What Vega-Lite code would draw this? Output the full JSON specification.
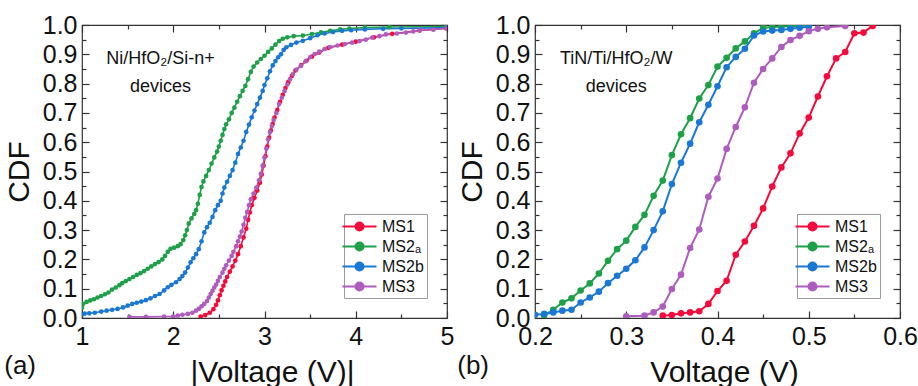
{
  "$schema": "https://vega.github.io/schema/vega-lite/v6.json",
  "padding": {"left": 3, "top": 12, "right": 5, "bottom": 0},
  "background": "white",
  "config": {
    "font": "Liberation Sans",
    "view": {"stroke": "#333333", "strokeWidth": 1.2},
    "axis": {
      "grid": false,
      "domain": false,
      "labelFont": "Liberation Sans",
      "labelFontSize": 25,
      "labelColor": "#111111",
      "titleFont": "Liberation Sans",
      "titleFontSize": 30,
      "titleFontWeight": "normal",
      "titleColor": "#111111",
      "tickColor": "#333333",
      "tickWidth": 1.2
    },
    "legend": {
      "orient": "bottom-right",
      "offset": 20,
      "title": null,
      "strokeColor": "#9a9a9a",
      "fillColor": "white",
      "padding": 3,
      "labelFont": "Liberation Sans",
      "labelFontSize": 16,
      "labelColor": "#111111",
      "labelOffset": 13,
      "symbolOffset": 3,
      "symbolType": "M-2,0L2,0M0.47,0A0.47,0.47,0,1,1,-0.47,0A0.47,0.47,0,1,1,0.47,0Z",
      "symbolSize": 289,
      "symbolStrokeWidth": 2,
      "rowPadding": 2
    },
    "title": {"fontSize": 26, "fontWeight": "normal", "font": "Liberation Sans", "color": "#111111"}
  },
  "datasets": {
    "a": [
      {"s":"MS1","v":2.30,"c":0.005},{"s":"MS1","v":2.35,"c":0.010},{"s":"MS1","v":2.40,"c":0.018},{"s":"MS1","v":2.44,"c":0.030},{"s":"MS1","v":2.47,"c":0.045},{"s":"MS1","v":2.49,"c":0.060},{"s":"MS1","v":2.51,"c":0.078},{"s":"MS1","v":2.53,"c":0.095},{"s":"MS1","v":2.55,"c":0.110},{"s":"MS1","v":2.57,"c":0.125},{"s":"MS1","v":2.59,"c":0.140},{"s":"MS1","v":2.62,"c":0.158},{"s":"MS1","v":2.65,"c":0.176},{"s":"MS1","v":2.68,"c":0.196},{"s":"MS1","v":2.71,"c":0.218},{"s":"MS1","v":2.74,"c":0.245},{"s":"MS1","v":2.77,"c":0.275},{"s":"MS1","v":2.80,"c":0.305},{"s":"MS1","v":2.82,"c":0.335},{"s":"MS1","v":2.84,"c":0.360},{"s":"MS1","v":2.86,"c":0.385},{"s":"MS1","v":2.89,"c":0.410},{"s":"MS1","v":2.92,"c":0.435},{"s":"MS1","v":2.95,"c":0.462},{"s":"MS1","v":2.97,"c":0.490},{"s":"MS1","v":2.99,"c":0.520},{"s":"MS1","v":3.01,"c":0.552},{"s":"MS1","v":3.03,"c":0.585},{"s":"MS1","v":3.05,"c":0.615},{"s":"MS1","v":3.07,"c":0.640},{"s":"MS1","v":3.09,"c":0.662},{"s":"MS1","v":3.11,"c":0.684},{"s":"MS1","v":3.14,"c":0.710},{"s":"MS1","v":3.17,"c":0.738},{"s":"MS1","v":3.20,"c":0.762},{"s":"MS1","v":3.23,"c":0.785},{"s":"MS1","v":3.26,"c":0.805},{"s":"MS1","v":3.30,"c":0.826},{"s":"MS1","v":3.34,"c":0.845},{"s":"MS1","v":3.40,"c":0.862},{"s":"MS1","v":3.46,"c":0.878},{"s":"MS1","v":3.52,"c":0.892},{"s":"MS1","v":3.60,"c":0.906},{"s":"MS1","v":3.70,"c":0.922},{"s":"MS1","v":3.85,"c":0.933},{"s":"MS1","v":4.00,"c":0.943},{"s":"MS1","v":4.20,"c":0.958},{"s":"MS1","v":4.40,"c":0.970},{"s":"MS1","v":4.70,"c":0.981},{"s":"MS1","v":4.99,"c":0.989},

      {"s":"MS2a","v":1.00,"c":0.035},{"s":"MS2a","v":1.01,"c":0.048},{"s":"MS2a","v":1.05,"c":0.055},{"s":"MS2a","v":1.09,"c":0.060},{"s":"MS2a","v":1.13,"c":0.064},{"s":"MS2a","v":1.17,"c":0.070},{"s":"MS2a","v":1.21,"c":0.075},{"s":"MS2a","v":1.25,"c":0.081},{"s":"MS2a","v":1.29,"c":0.087},{"s":"MS2a","v":1.33,"c":0.097},{"s":"MS2a","v":1.37,"c":0.104},{"s":"MS2a","v":1.41,"c":0.112},{"s":"MS2a","v":1.44,"c":0.119},{"s":"MS2a","v":1.48,"c":0.126},{"s":"MS2a","v":1.52,"c":0.133},{"s":"MS2a","v":1.56,"c":0.140},{"s":"MS2a","v":1.60,"c":0.147},{"s":"MS2a","v":1.64,"c":0.153},{"s":"MS2a","v":1.68,"c":0.160},{"s":"MS2a","v":1.72,"c":0.168},{"s":"MS2a","v":1.76,"c":0.176},{"s":"MS2a","v":1.80,"c":0.184},{"s":"MS2a","v":1.84,"c":0.191},{"s":"MS2a","v":1.88,"c":0.200},{"s":"MS2a","v":1.91,"c":0.212},{"s":"MS2a","v":1.94,"c":0.226},{"s":"MS2a","v":1.97,"c":0.236},{"s":"MS2a","v":2.01,"c":0.240},{"s":"MS2a","v":2.05,"c":0.245},{"s":"MS2a","v":2.08,"c":0.252},{"s":"MS2a","v":2.11,"c":0.266},{"s":"MS2a","v":2.13,"c":0.282},{"s":"MS2a","v":2.15,"c":0.300},{"s":"MS2a","v":2.17,"c":0.322},{"s":"MS2a","v":2.20,"c":0.340},{"s":"MS2a","v":2.23,"c":0.355},{"s":"MS2a","v":2.25,"c":0.368},{"s":"MS2a","v":2.27,"c":0.390},{"s":"MS2a","v":2.29,"c":0.420},{"s":"MS2a","v":2.31,"c":0.447},{"s":"MS2a","v":2.33,"c":0.466},{"s":"MS2a","v":2.36,"c":0.485},{"s":"MS2a","v":2.39,"c":0.505},{"s":"MS2a","v":2.42,"c":0.527},{"s":"MS2a","v":2.45,"c":0.548},{"s":"MS2a","v":2.48,"c":0.568},{"s":"MS2a","v":2.50,"c":0.585},{"s":"MS2a","v":2.52,"c":0.605},{"s":"MS2a","v":2.54,"c":0.625},{"s":"MS2a","v":2.56,"c":0.645},{"s":"MS2a","v":2.58,"c":0.661},{"s":"MS2a","v":2.61,"c":0.678},{"s":"MS2a","v":2.64,"c":0.700},{"s":"MS2a","v":2.67,"c":0.718},{"s":"MS2a","v":2.70,"c":0.738},{"s":"MS2a","v":2.73,"c":0.757},{"s":"MS2a","v":2.76,"c":0.775},{"s":"MS2a","v":2.79,"c":0.792},{"s":"MS2a","v":2.82,"c":0.815},{"s":"MS2a","v":2.85,"c":0.840},{"s":"MS2a","v":2.88,"c":0.858},{"s":"MS2a","v":2.92,"c":0.872},{"s":"MS2a","v":2.96,"c":0.884},{"s":"MS2a","v":3.00,"c":0.895},{"s":"MS2a","v":3.04,"c":0.908},{"s":"MS2a","v":3.08,"c":0.920},{"s":"MS2a","v":3.12,"c":0.933},{"s":"MS2a","v":3.16,"c":0.945},{"s":"MS2a","v":3.20,"c":0.953},{"s":"MS2a","v":3.25,"c":0.958},{"s":"MS2a","v":3.32,"c":0.962},{"s":"MS2a","v":3.42,"c":0.964},{"s":"MS2a","v":3.52,"c":0.969},{"s":"MS2a","v":3.62,"c":0.975},{"s":"MS2a","v":3.72,"c":0.980},{"s":"MS2a","v":3.83,"c":0.985},{"s":"MS2a","v":3.93,"c":0.988},{"s":"MS2a","v":4.10,"c":0.991},{"s":"MS2a","v":4.37,"c":0.993},{"s":"MS2a","v":4.99,"c":0.995},

      {"s":"MS2b","v":1.00,"c":0.012},{"s":"MS2b","v":1.03,"c":0.015},{"s":"MS2b","v":1.08,"c":0.016},{"s":"MS2b","v":1.14,"c":0.018},{"s":"MS2b","v":1.21,"c":0.022},{"s":"MS2b","v":1.27,"c":0.025},{"s":"MS2b","v":1.33,"c":0.028},{"s":"MS2b","v":1.39,"c":0.031},{"s":"MS2b","v":1.45,"c":0.036},{"s":"MS2b","v":1.50,"c":0.042},{"s":"MS2b","v":1.55,"c":0.048},{"s":"MS2b","v":1.60,"c":0.052},{"s":"MS2b","v":1.65,"c":0.056},{"s":"MS2b","v":1.70,"c":0.061},{"s":"MS2b","v":1.75,"c":0.067},{"s":"MS2b","v":1.80,"c":0.075},{"s":"MS2b","v":1.85,"c":0.082},{"s":"MS2b","v":1.90,"c":0.094},{"s":"MS2b","v":1.94,"c":0.105},{"s":"MS2b","v":1.98,"c":0.113},{"s":"MS2b","v":2.03,"c":0.122},{"s":"MS2b","v":2.07,"c":0.133},{"s":"MS2b","v":2.10,"c":0.143},{"s":"MS2b","v":2.13,"c":0.155},{"s":"MS2b","v":2.16,"c":0.172},{"s":"MS2b","v":2.19,"c":0.190},{"s":"MS2b","v":2.22,"c":0.204},{"s":"MS2b","v":2.25,"c":0.218},{"s":"MS2b","v":2.28,"c":0.235},{"s":"MS2b","v":2.31,"c":0.262},{"s":"MS2b","v":2.34,"c":0.292},{"s":"MS2b","v":2.37,"c":0.310},{"s":"MS2b","v":2.40,"c":0.325},{"s":"MS2b","v":2.43,"c":0.345},{"s":"MS2b","v":2.46,"c":0.368},{"s":"MS2b","v":2.49,"c":0.385},{"s":"MS2b","v":2.52,"c":0.400},{"s":"MS2b","v":2.54,"c":0.425},{"s":"MS2b","v":2.56,"c":0.445},{"s":"MS2b","v":2.59,"c":0.465},{"s":"MS2b","v":2.62,"c":0.485},{"s":"MS2b","v":2.65,"c":0.505},{"s":"MS2b","v":2.68,"c":0.530},{"s":"MS2b","v":2.71,"c":0.560},{"s":"MS2b","v":2.74,"c":0.582},{"s":"MS2b","v":2.77,"c":0.605},{"s":"MS2b","v":2.80,"c":0.635},{"s":"MS2b","v":2.83,"c":0.660},{"s":"MS2b","v":2.86,"c":0.685},{"s":"MS2b","v":2.89,"c":0.708},{"s":"MS2b","v":2.92,"c":0.730},{"s":"MS2b","v":2.95,"c":0.752},{"s":"MS2b","v":2.98,"c":0.775},{"s":"MS2b","v":3.00,"c":0.795},{"s":"MS2b","v":3.03,"c":0.818},{"s":"MS2b","v":3.06,"c":0.842},{"s":"MS2b","v":3.09,"c":0.862},{"s":"MS2b","v":3.12,"c":0.877},{"s":"MS2b","v":3.15,"c":0.890},{"s":"MS2b","v":3.18,"c":0.900},{"s":"MS2b","v":3.21,"c":0.915},{"s":"MS2b","v":3.24,"c":0.924},{"s":"MS2b","v":3.29,"c":0.932},{"s":"MS2b","v":3.35,"c":0.940},{"s":"MS2b","v":3.42,"c":0.946},{"s":"MS2b","v":3.50,"c":0.955},{"s":"MS2b","v":3.58,"c":0.965},{"s":"MS2b","v":3.66,"c":0.971},{"s":"MS2b","v":3.75,"c":0.976},{"s":"MS2b","v":3.85,"c":0.980},{"s":"MS2b","v":3.95,"c":0.982},{"s":"MS2b","v":4.10,"c":0.985},{"s":"MS2b","v":4.30,"c":0.987},{"s":"MS2b","v":4.50,"c":0.988},{"s":"MS2b","v":4.99,"c":0.991},

      {"s":"MS3","v":1.52,"c":0.004},{"s":"MS3","v":1.70,"c":0.004},{"s":"MS3","v":1.90,"c":0.005},{"s":"MS3","v":2.00,"c":0.005},{"s":"MS3","v":2.05,"c":0.008},{"s":"MS3","v":2.10,"c":0.011},{"s":"MS3","v":2.16,"c":0.014},{"s":"MS3","v":2.21,"c":0.018},{"s":"MS3","v":2.25,"c":0.025},{"s":"MS3","v":2.28,"c":0.031},{"s":"MS3","v":2.31,"c":0.040},{"s":"MS3","v":2.34,"c":0.048},{"s":"MS3","v":2.37,"c":0.058},{"s":"MS3","v":2.39,"c":0.070},{"s":"MS3","v":2.41,"c":0.082},{"s":"MS3","v":2.43,"c":0.093},{"s":"MS3","v":2.45,"c":0.104},{"s":"MS3","v":2.47,"c":0.114},{"s":"MS3","v":2.49,"c":0.127},{"s":"MS3","v":2.51,"c":0.140},{"s":"MS3","v":2.54,"c":0.155},{"s":"MS3","v":2.56,"c":0.168},{"s":"MS3","v":2.58,"c":0.180},{"s":"MS3","v":2.61,"c":0.196},{"s":"MS3","v":2.64,"c":0.212},{"s":"MS3","v":2.66,"c":0.226},{"s":"MS3","v":2.69,"c":0.245},{"s":"MS3","v":2.71,"c":0.262},{"s":"MS3","v":2.73,"c":0.278},{"s":"MS3","v":2.75,"c":0.295},{"s":"MS3","v":2.77,"c":0.318},{"s":"MS3","v":2.79,"c":0.342},{"s":"MS3","v":2.81,"c":0.362},{"s":"MS3","v":2.83,"c":0.385},{"s":"MS3","v":2.85,"c":0.405},{"s":"MS3","v":2.88,"c":0.425},{"s":"MS3","v":2.91,"c":0.445},{"s":"MS3","v":2.94,"c":0.470},{"s":"MS3","v":2.96,"c":0.492},{"s":"MS3","v":2.98,"c":0.520},{"s":"MS3","v":3.00,"c":0.548},{"s":"MS3","v":3.02,"c":0.578},{"s":"MS3","v":3.04,"c":0.610},{"s":"MS3","v":3.06,"c":0.635},{"s":"MS3","v":3.08,"c":0.655},{"s":"MS3","v":3.10,"c":0.676},{"s":"MS3","v":3.13,"c":0.700},{"s":"MS3","v":3.16,"c":0.730},{"s":"MS3","v":3.19,"c":0.752},{"s":"MS3","v":3.22,"c":0.775},{"s":"MS3","v":3.25,"c":0.797},{"s":"MS3","v":3.28,"c":0.815},{"s":"MS3","v":3.31,"c":0.832},{"s":"MS3","v":3.35,"c":0.848},{"s":"MS3","v":3.40,"c":0.860},{"s":"MS3","v":3.45,"c":0.876},{"s":"MS3","v":3.50,"c":0.890},{"s":"MS3","v":3.55,"c":0.901},{"s":"MS3","v":3.60,"c":0.909},{"s":"MS3","v":3.66,"c":0.918},{"s":"MS3","v":3.72,"c":0.925},{"s":"MS3","v":3.80,"c":0.930},{"s":"MS3","v":3.88,"c":0.935},{"s":"MS3","v":3.96,"c":0.940},{"s":"MS3","v":4.04,"c":0.945},{"s":"MS3","v":4.11,"c":0.950},{"s":"MS3","v":4.18,"c":0.957},{"s":"MS3","v":4.26,"c":0.962},{"s":"MS3","v":4.33,"c":0.968},{"s":"MS3","v":4.45,"c":0.971},{"s":"MS3","v":4.55,"c":0.974},{"s":"MS3","v":4.63,"c":0.978},{"s":"MS3","v":4.70,"c":0.982},{"s":"MS3","v":4.85,"c":0.984},{"s":"MS3","v":4.99,"c":0.989}
    ],
    "b": [
      {"s":"MS1","v":0.34,"c":0.008},{"s":"MS1","v":0.35,"c":0.010},{"s":"MS1","v":0.36,"c":0.016},{"s":"MS1","v":0.37,"c":0.019},{"s":"MS1","v":0.38,"c":0.023},{"s":"MS1","v":0.39,"c":0.048},{"s":"MS1","v":0.40,"c":0.092},{"s":"MS1","v":0.41,"c":0.127},{"s":"MS1","v":0.42,"c":0.216},{"s":"MS1","v":0.43,"c":0.261},{"s":"MS1","v":0.44,"c":0.315},{"s":"MS1","v":0.45,"c":0.374},{"s":"MS1","v":0.46,"c":0.449},{"s":"MS1","v":0.47,"c":0.514},{"s":"MS1","v":0.48,"c":0.562},{"s":"MS1","v":0.49,"c":0.630},{"s":"MS1","v":0.50,"c":0.684},{"s":"MS1","v":0.51,"c":0.756},{"s":"MS1","v":0.52,"c":0.825},{"s":"MS1","v":0.53,"c":0.886},{"s":"MS1","v":0.54,"c":0.908},{"s":"MS1","v":0.55,"c":0.972},{"s":"MS1","v":0.56,"c":0.974},{"s":"MS1","v":0.57,"c":0.997},

      {"s":"MS2a","v":0.21,"c":0.009},{"s":"MS2a","v":0.22,"c":0.028},{"s":"MS2a","v":0.23,"c":0.053},{"s":"MS2a","v":0.24,"c":0.067},{"s":"MS2a","v":0.25,"c":0.094},{"s":"MS2a","v":0.26,"c":0.118},{"s":"MS2a","v":0.27,"c":0.152},{"s":"MS2a","v":0.28,"c":0.195},{"s":"MS2a","v":0.29,"c":0.235},{"s":"MS2a","v":0.30,"c":0.264},{"s":"MS2a","v":0.31,"c":0.311},{"s":"MS2a","v":0.32,"c":0.352},{"s":"MS2a","v":0.33,"c":0.417},{"s":"MS2a","v":0.34,"c":0.469},{"s":"MS2a","v":0.35,"c":0.556},{"s":"MS2a","v":0.36,"c":0.627},{"s":"MS2a","v":0.37,"c":0.682},{"s":"MS2a","v":0.38,"c":0.749},{"s":"MS2a","v":0.39,"c":0.795},{"s":"MS2a","v":0.40,"c":0.858},{"s":"MS2a","v":0.41,"c":0.888},{"s":"MS2a","v":0.42,"c":0.920},{"s":"MS2a","v":0.43,"c":0.944},{"s":"MS2a","v":0.44,"c":0.972},{"s":"MS2a","v":0.45,"c":0.990},{"s":"MS2a","v":0.46,"c":0.993},{"s":"MS2a","v":0.47,"c":0.995},{"s":"MS2a","v":0.48,"c":0.996},{"s":"MS2a","v":0.49,"c":0.997},{"s":"MS2a","v":0.50,"c":0.998},

      {"s":"MS2b","v":0.20,"c":0.011},{"s":"MS2b","v":0.21,"c":0.014},{"s":"MS2b","v":0.22,"c":0.019},{"s":"MS2b","v":0.23,"c":0.025},{"s":"MS2b","v":0.24,"c":0.028},{"s":"MS2b","v":0.25,"c":0.053},{"s":"MS2b","v":0.26,"c":0.070},{"s":"MS2b","v":0.27,"c":0.090},{"s":"MS2b","v":0.28,"c":0.119},{"s":"MS2b","v":0.29,"c":0.144},{"s":"MS2b","v":0.30,"c":0.168},{"s":"MS2b","v":0.31,"c":0.197},{"s":"MS2b","v":0.32,"c":0.241},{"s":"MS2b","v":0.33,"c":0.300},{"s":"MS2b","v":0.34,"c":0.364},{"s":"MS2b","v":0.35,"c":0.457},{"s":"MS2b","v":0.36,"c":0.530},{"s":"MS2b","v":0.37,"c":0.595},{"s":"MS2b","v":0.38,"c":0.668},{"s":"MS2b","v":0.39,"c":0.728},{"s":"MS2b","v":0.40,"c":0.791},{"s":"MS2b","v":0.41,"c":0.856},{"s":"MS2b","v":0.42,"c":0.891},{"s":"MS2b","v":0.43,"c":0.919},{"s":"MS2b","v":0.44,"c":0.964},{"s":"MS2b","v":0.45,"c":0.978},{"s":"MS2b","v":0.46,"c":0.981},{"s":"MS2b","v":0.47,"c":0.983},{"s":"MS2b","v":0.48,"c":0.987},{"s":"MS2b","v":0.49,"c":0.991},{"s":"MS2b","v":0.50,"c":0.994},

      {"s":"MS3","v":0.30,"c":0.006},{"s":"MS3","v":0.32,"c":0.008},{"s":"MS3","v":0.33,"c":0.019},{"s":"MS3","v":0.34,"c":0.039},{"s":"MS3","v":0.35,"c":0.099},{"s":"MS3","v":0.36,"c":0.148},{"s":"MS3","v":0.37,"c":0.239},{"s":"MS3","v":0.38,"c":0.302},{"s":"MS3","v":0.39,"c":0.414},{"s":"MS3","v":0.40,"c":0.476},{"s":"MS3","v":0.41,"c":0.577},{"s":"MS3","v":0.42,"c":0.652},{"s":"MS3","v":0.43,"c":0.719},{"s":"MS3","v":0.44,"c":0.803},{"s":"MS3","v":0.45,"c":0.850},{"s":"MS3","v":0.46,"c":0.886},{"s":"MS3","v":0.47,"c":0.925},{"s":"MS3","v":0.48,"c":0.949},{"s":"MS3","v":0.49,"c":0.963},{"s":"MS3","v":0.50,"c":0.979},{"s":"MS3","v":0.51,"c":0.987},{"s":"MS3","v":0.52,"c":0.992},{"s":"MS3","v":0.54,"c":0.997}
    ]
  },
  "bounds": "flush",
  "spacing": 88,
  "resolve": {"scale": {"color": "independent"}, "legend": {"color": "independent"}},
  "hconcat": [
    {
      "width": 365,
      "height": 293,
      "title": {"text": "(a)", "orient": "bottom", "anchor": "start", "frame": "bounds", "offset": -34},
      "layer": [
        {
          "data": {"name": "a"},
          "mark": {"type": "line", "strokeWidth": 1.6, "clip": true},
          "encoding": {
            "x": {"field": "v", "type": "quantitative", "scale": {"domain": [1, 5], "nice": false, "zero": false},
              "axis": {"orient": "bottom", "title": "|Voltage (V)|", "titleX": 190, "values": [1, 1.5, 2, 2.5, 3, 3.5, 4, 4.5, 5],
                "labelExpr": "datum.value % 1 === 0 ? format(datum.value, 'd') : ''",
                "tickSize": {"condition": {"test": "datum.value % 1 === 0", "value": -7}, "value": -4},
                "labelPadding": 13, "titlePadding": 8, "labelFlush": false}},
            "y": {"field": "c", "type": "quantitative", "scale": {"domain": [0, 1], "nice": false},
              "axis": {"orient": "left", "title": "CDF", "values": [0, 0.05, 0.1, 0.15, 0.2, 0.25, 0.3, 0.35, 0.4, 0.45, 0.5, 0.55, 0.6, 0.65, 0.7, 0.75, 0.8, 0.85, 0.9, 0.95, 1],
                "labelExpr": "round(datum.value * 20) % 2 === 0 ? format(datum.value, '.1f') : ''",
                "tickSize": {"condition": {"test": "round(datum.value * 20) % 2 === 0", "value": -7}, "value": -4},
                "labelPadding": 12, "titlePadding": 8, "labelFlush": false}},
            "color": {"field": "s", "type": "nominal",
              "scale": {"domain": ["MS1", "MS2a", "MS2b", "MS3"], "range": ["#F50A3C", "#1DA048", "#1A78D4", "#AE5CBD"]},
              "legend": {"labelExpr": "datum.label === 'MS2a' ? 'MS2ₐ' : datum.label"}}
          }
        },
        {
          "data": {"name": "a"},
          "mark": {"type": "point", "filled": true, "opacity": 1, "size": 22, "clip": true},
          "encoding": {
            "x": {"field": "v", "type": "quantitative",
              "axis": {"orient": "top", "title": null, "labels": false, "values": [1, 1.5, 2, 2.5, 3, 3.5, 4, 4.5, 5],
                "tickSize": {"condition": {"test": "datum.value % 1 === 0", "value": -7}, "value": -4}}},
            "y": {"field": "c", "type": "quantitative",
              "axis": {"orient": "right", "title": null, "labels": false, "values": [0, 0.05, 0.1, 0.15, 0.2, 0.25, 0.3, 0.35, 0.4, 0.45, 0.5, 0.55, 0.6, 0.65, 0.7, 0.75, 0.8, 0.85, 0.9, 0.95, 1],
                "tickSize": {"condition": {"test": "round(datum.value * 20) % 2 === 0", "value": -7}, "value": -4}}},
            "color": {"field": "s", "type": "nominal"}
          }
        },
        {
          "data": {"values": [{"note": "Ni/HfO₂/Si-n+\ndevices"}]},
          "mark": {"type": "text", "fontSize": 18, "lineHeight": 28, "lineBreak": "\n", "align": "center", "baseline": "alphabetic", "color": "#111111"},
          "encoding": {
            "x": {"datum": 1.86, "type": "quantitative", "axis": null},
            "y": {"datum": 0.867, "type": "quantitative", "axis": null},
            "text": {"field": "note"}
          }
        }
      ],
      "resolve": {"axis": {"x": "independent", "y": "independent"}}
    },
    {
      "width": 365,
      "height": 293,
      "title": {"text": "(b)", "orient": "bottom", "anchor": "start", "frame": "bounds", "offset": -34},
      "layer": [
        {
          "data": {"name": "b"},
          "mark": {"type": "line", "strokeWidth": 2, "clip": true},
          "encoding": {
            "x": {"field": "v", "type": "quantitative", "scale": {"domain": [0.2, 0.6], "nice": false, "zero": false},
              "axis": {"orient": "bottom", "title": "Voltage (V)", "titleX": 189, "values": [0.2, 0.25, 0.3, 0.35, 0.4, 0.45, 0.5, 0.55, 0.6],
                "labelExpr": "round(datum.value * 20) % 2 === 0 ? format(datum.value, '.1f') : ''",
                "tickSize": {"condition": {"test": "round(datum.value * 20) % 2 === 0", "value": -7}, "value": -4},
                "labelPadding": 13, "titlePadding": 8, "labelFlush": false}},
            "y": {"field": "c", "type": "quantitative", "scale": {"domain": [0, 1], "nice": false},
              "axis": {"orient": "left", "title": "CDF", "values": [0, 0.05, 0.1, 0.15, 0.2, 0.25, 0.3, 0.35, 0.4, 0.45, 0.5, 0.55, 0.6, 0.65, 0.7, 0.75, 0.8, 0.85, 0.9, 0.95, 1],
                "labelExpr": "round(datum.value * 20) % 2 === 0 ? format(datum.value, '.1f') : ''",
                "tickSize": {"condition": {"test": "round(datum.value * 20) % 2 === 0", "value": -7}, "value": -4},
                "labelPadding": 12, "titlePadding": 8, "labelFlush": false}},
            "color": {"field": "s", "type": "nominal",
              "scale": {"domain": ["MS1", "MS2a", "MS2b", "MS3"], "range": ["#F50A3C", "#1DA048", "#1A78D4", "#AE5CBD"]},
              "legend": {"labelExpr": "datum.label === 'MS2a' ? 'MS2ₐ' : datum.label"}}
          }
        },
        {
          "data": {"name": "b"},
          "mark": {"type": "point", "filled": true, "opacity": 1, "size": 44, "clip": true},
          "encoding": {
            "x": {"field": "v", "type": "quantitative",
              "axis": {"orient": "top", "title": null, "labels": false, "values": [0.2, 0.25, 0.3, 0.35, 0.4, 0.45, 0.5, 0.55, 0.6],
                "tickSize": {"condition": {"test": "round(datum.value * 20) % 2 === 0", "value": -7}, "value": -4}}},
            "y": {"field": "c", "type": "quantitative",
              "axis": {"orient": "right", "title": null, "labels": false, "values": [0, 0.05, 0.1, 0.15, 0.2, 0.25, 0.3, 0.35, 0.4, 0.45, 0.5, 0.55, 0.6, 0.65, 0.7, 0.75, 0.8, 0.85, 0.9, 0.95, 1],
                "tickSize": {"condition": {"test": "round(datum.value * 20) % 2 === 0", "value": -7}, "value": -4}}},
            "color": {"field": "s", "type": "nominal"}
          }
        },
        {
          "data": {"values": [{"note": "TiN/Ti/HfO₂/W\ndevices"}]},
          "mark": {"type": "text", "fontSize": 18, "lineHeight": 28, "lineBreak": "\n", "align": "center", "baseline": "alphabetic", "color": "#111111"},
          "encoding": {
            "x": {"datum": 0.289, "type": "quantitative", "axis": null},
            "y": {"datum": 0.867, "type": "quantitative", "axis": null},
            "text": {"field": "note"}
          }
        }
      ],
      "resolve": {"axis": {"x": "independent", "y": "independent"}}
    }
  ]
}
